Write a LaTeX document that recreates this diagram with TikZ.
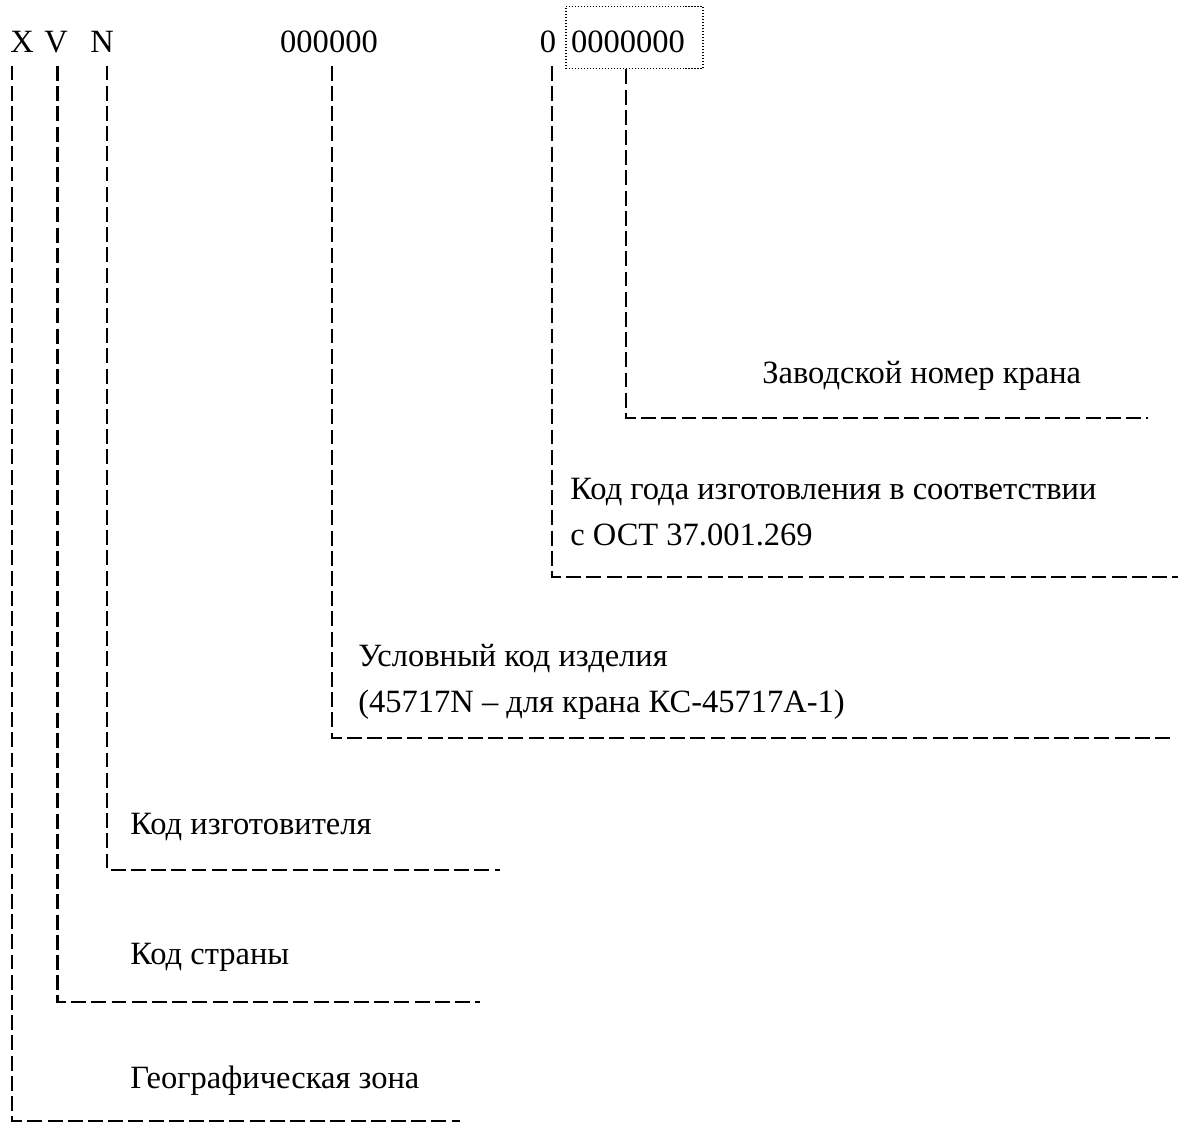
\documentclass[tikz,border=0pt]{standalone}
\usepackage{fontspec}
\setmainfont{Liberation Serif}
\usetikzlibrary{positioning}

\begin{document}
\begin{tikzpicture}[x=0.02cm,y=-0.02cm,
  lead/.style={line width=1.2pt,dash pattern=on 8.5pt off 3pt},
  code/.style={anchor=base,inner xsep=0pt,inner ysep=7.5pt,font=\fontsize{18.5}{26}\selectfont},
  txt/.style={anchor=base west,inner sep=0pt,align=left,font=\fontsize{18.5}{26}\selectfont}]
\useasboundingbox (0,0) rectangle (1184,1127);
% the code itself
\node[code] (x) at (22,52) {X};
\node[code] (v) at (56,52) {V};
\node[code] (n) at (102,52) {N};
\node[code] (prod) at (329,52) {000000};
\node[code] (year) at (548,52) {0};
\node[code] (num) at (628,52) {0000000};
\node[draw,line width=1.1pt,dash pattern=on 0.8pt off 0.9pt,minimum width=2.74cm,minimum height=1.24cm] (box) at (634.5,37.5) {};
% ends of the leaders
\coordinate (numend) at (1148,418);
\coordinate (yearend) at (1178,577);
\coordinate (prodend) at (1172,738);
\coordinate (nend) at (500,870);
\coordinate (vend) at (480,1002);
\coordinate (xend) at (460,1121);
% leaders
\draw[lead] ([xshift=-0.04cm]box.south -| num.south) |- (numend);
\foreach \c/\s in {x/-0.2cm,v/0.03cm,n/0.1cm,prod/0.06cm,year/0.08cm}{\draw[lead] ([xshift=\s]\c.south) |- (\c end);}
% explanations (base of a two-line node is its last line)
\node[txt] (numtxt) at (762,383) {Заводской номер крана};
\node[txt] (yeartxt) at (570,545) {Код года изготовления в соответствии\\с ОСТ 37.001.269};
\node[txt] (prodtxt) at (358,712) {Условный код изделия\\(45717N – для крана КС-45717А-1)};
\node[txt] (ntxt) at (130,834) {Код изготовителя};
\node[txt] (vtxt) at (130,964) {Код страны};
\node[txt] (xtxt) at (130,1088) {Географическая зона};
\end{tikzpicture}
\end{document}
